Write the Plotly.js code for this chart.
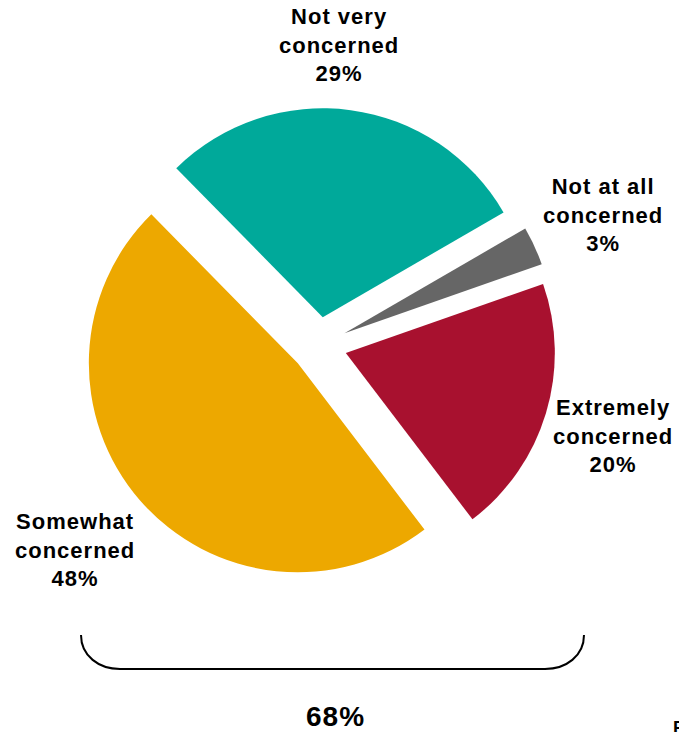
<!DOCTYPE html>
<html>
<head>
<meta charset="utf-8">
<script src="https://cdn.plot.ly/plotly-3.0.1.min.js"></script>
<style>
  html, body { margin: 0; padding: 0; background: #fff; }
  #chart { width: 679px; height: 732px; }
  .annotation-text { letter-spacing: 1px; }
</style>
</head>
<body>
<div id="chart"></div>
<script>
// ---- data ----
var categories = ["Not very concerned", "Not at all concerned", "Extremely concerned", "Somewhat concerned"];
var values = [29, 3, 20, 48];
var labelLines = [["Not very", "concerned"], ["Not at all", "concerned"], ["Extremely", "concerned"], ["Somewhat", "concerned"]];
var bracketGroup = ["Extremely concerned", "Somewhat concerned"];
var bracketTotal = 68;

// ---- styles ----
var colors = ["#00A99A", "#666666", "#A8112F", "#EDA800"];
var W = 679, H = 732;
function px(x) { return x / W; }
function py(y) { return 1 - y / H; }

var labelPos = [[339, 45], [603, 215], [613, 436], [75, 550]];

var trace = {
  type: "pie",
  labels: categories,
  values: values,
  sort: false,
  direction: "clockwise",
  rotation: -44.5,
  pull: values.map(function () { return 0.134; }),
  marker: { colors: colors, line: { width: 0 } },
  textinfo: "none",
  hoverinfo: "label+percent",
  showlegend: false,
  domain: { x: [px(82), px(556)], y: [py(582), py(108)] }
};

var total = values.reduce(function (a, b) { return a + b; }, 0);
var annotations = categories.map(function (c, i) {
  var pct = Math.round(values[i] / total * 100);
  return {
    xref: "paper", yref: "paper",
    x: px(labelPos[i][0]), y: py(labelPos[i][1]),
    xanchor: "center", yanchor: "middle",
    text: labelLines[i].join("<br>") + "<br>" + pct + "%",
    showarrow: false, align: "center",
    font: { family: "Liberation Sans, Arial, sans-serif", size: 22, color: "#000", weight: 700 }
  };
});
annotations.push({
  xref: "paper", yref: "paper",
  x: px(335), y: py(716),
  xanchor: "center", yanchor: "middle",
  text: bracketTotal + "%",
  showarrow: false,
  font: { family: "Liberation Sans, Arial, sans-serif", size: 28, color: "#000", weight: 700 }
});
annotations.push({
  xref: "paper", yref: "paper",
  x: px(671), y: py(716),
  xanchor: "left", yanchor: "top",
  text: "P",
  showarrow: false,
  font: { family: "Liberation Sans, Arial, sans-serif", size: 18, color: "#000", weight: 700 }
});

function P(x, y) { return px(x).toFixed(5) + "," + py(y).toFixed(5); }
var bracketPath = "M" + P(81, 635) + " C" + P(81, 656) + " " + P(99, 669) + " " + P(120, 669) +
  " L" + P(545, 669) + " C" + P(566, 669) + " " + P(584, 656) + " " + P(584, 635);

var layout = {
  width: W, height: H,
  margin: { l: 0, r: 0, t: 0, b: 0 },
  paper_bgcolor: "#fff",
  plot_bgcolor: "#fff",
  annotations: annotations,
  shapes: [{
    type: "path", xref: "paper", yref: "paper",
    path: bracketPath,
    line: { color: "#000", width: 2 }
  }]
};

Plotly.newPlot("chart", [trace], layout, { displayModeBar: false, staticPlot: true });
</script>
</body>
</html>
